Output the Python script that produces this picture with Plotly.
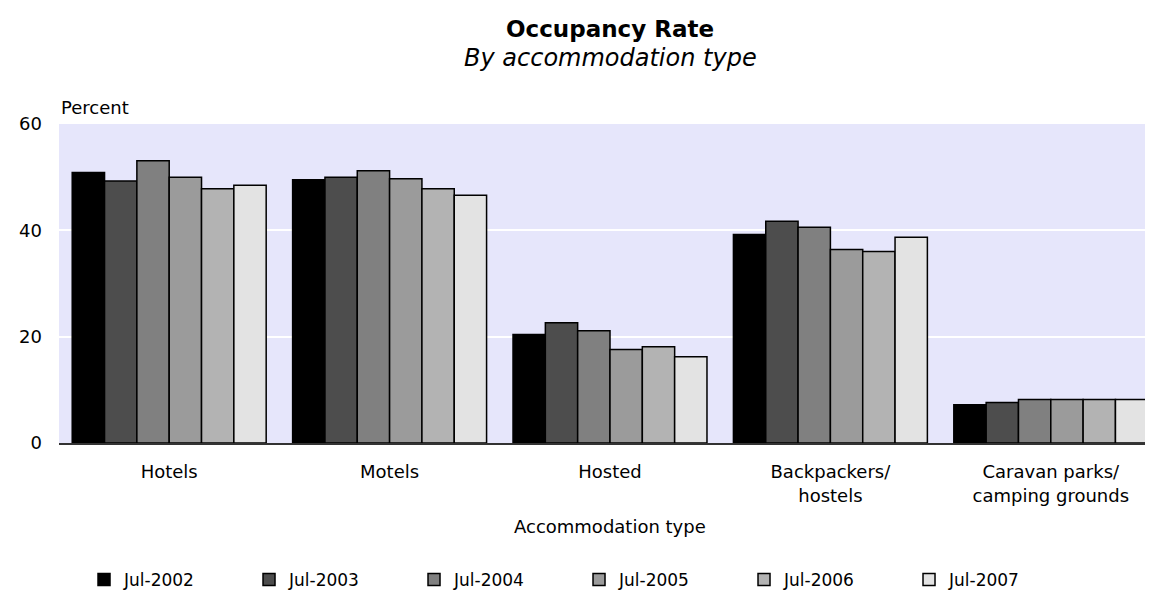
import plotly.graph_objects as go

categories = ["Hotels", "Motels", "Hosted", "Backpackers/<br>hostels", "Caravan parks/<br>camping grounds"]
series_names = ["Jul-2002", "Jul-2003", "Jul-2004", "Jul-2005", "Jul-2006", "Jul-2007"]
jul_2002 = [50.9, 49.5, 20.4, 39.2, 7.2]
jul_2003 = [49.3, 50.0, 22.6, 41.7, 7.6]
jul_2004 = [53.1, 51.2, 21.1, 40.6, 8.2]
jul_2005 = [50.0, 49.7, 17.6, 36.4, 8.2]
jul_2006 = [47.8, 47.8, 18.1, 36.0, 8.2]
jul_2007 = [48.5, 46.6, 16.2, 38.7, 8.2]
series_values = [jul_2002, jul_2003, jul_2004, jul_2005, jul_2006, jul_2007]
colors = ["#000000", "#4d4d4d", "#808080", "#9b9b9b", "#b3b3b3", "#e3e3e3"]
y_ticks = [0, 20, 40, 60]

FONT = "DejaVu Sans"

fig = go.Figure()
for name, vals, col in zip(series_names, series_values, colors):
    fig.add_trace(go.Bar(
        name=name, x=categories, y=vals,
        marker=dict(color=col, line=dict(color="#000000", width=1.5)),
    ))

fig.update_layout(
    width=1153, height=590,
    margin=dict(l=51, r=0, t=116, b=155),
    paper_bgcolor="white", plot_bgcolor="#e6e6fb",
    barmode="group", bargap=0.12, bargroupgap=0,
    font=dict(family=FONT, size=18, color="#000000"),
    showlegend=True,
    legend=dict(
        orientation="h", x=0.0227, xanchor="left", y=(435 - 572) / 319, yanchor="middle",
        yref="paper", entrywidth=120, entrywidthmode="pixels",
        font=dict(family=FONT, size=17), bgcolor="rgba(0,0,0,0)",
        traceorder="normal",
    ),
    xaxis=dict(
        showgrid=False, showline=True, linecolor="#333333", linewidth=1.5,
        ticks="", tickfont=dict(family=FONT, size=18), ticklabelstandoff=12,
    ),
    yaxis=dict(
        range=[0, 60], tickvals=y_ticks, showgrid=True, gridcolor="white", gridwidth=1.5,
        zeroline=False, showline=False, ticks="", tickfont=dict(family=FONT, size=18),
        ticklabelstandoff=16,
    ),
    annotations=[
        dict(text="<b>Occupancy Rate</b>", x=0.5, y=(435 - 21) / 319, xref="paper", yref="paper",
             xanchor="center", yanchor="middle", showarrow=False,
             font=dict(family=FONT, size=23, color="#000000")),
        dict(text="<i>By accommodation type</i>", x=0.5, y=(435 - 50) / 319, xref="paper", yref="paper",
             xanchor="center", yanchor="middle", showarrow=False,
             font=dict(family=FONT, size=24, color="#000000")),
        dict(text="Percent", x=0, y=(435 - 100) / 319, xref="paper", yref="paper",
             xanchor="left", yanchor="middle", showarrow=False,
             font=dict(family=FONT, size=18, color="#000000")),
        dict(text="Accommodation type", x=0.5, y=(435 - 518) / 319, xref="paper", yref="paper",
             xanchor="center", yanchor="middle", showarrow=False,
             font=dict(family=FONT, size=18, color="#000000")),
    ],
)

fig.write_html("out.html")
